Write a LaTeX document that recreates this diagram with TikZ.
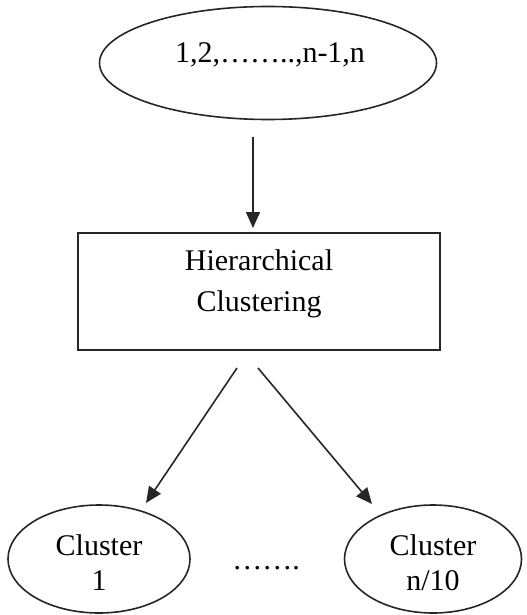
\documentclass[tikz,border=0pt]{standalone}
\usepackage{fontspec}
\setmainfont{Liberation Serif}
\usetikzlibrary{shapes.geometric,arrows.meta}
\tikzset{
  shapeline/.style={draw=black!85, line width=1.6bp},
  oval/.style={shapeline, ellipse, inner sep=0pt},
  txt/.style={anchor=base, inner sep=0pt, font=\fontsize{30bp}{36bp}\selectfont},
  conn/.style={draw=black!85, line width=1.6bp, -{Triangle[length=16bp,width=14bp]}},
}
\begin{document}
\begin{tikzpicture}[x=1bp,y=-1bp]
\useasboundingbox (0,0) rectangle (527,615);
% top ellipse
\node[oval, minimum width=337bp, minimum height=113bp] (top) at (268,63) {};
\node[txt] (toptxt) at (270,63) {1,2,……..,n-1,n};
% box
\node[shapeline, rectangle, minimum width=362bp, minimum height=117bp, inner sep=0pt] (box) at (259,291.5) {};
\node[txt] (boxl1) at (259,270) {Hierarchical};
\node[txt] (boxl2) at (259,311) {Clustering};
% bottom ellipses
\node[oval, minimum width=182bp, minimum height=108bp] (c1) at (99,559) {};
\node[txt] (c1a) at (99,555) {Cluster};
\node[txt] (c1b) at (99,590) {1};
\node[oval, minimum width=177bp, minimum height=108bp] (cn) at (433,559) {};
\node[txt] (cna) at (433,555) {Cluster};
\node[txt] (cnb) at (433,590) {n/10};
\node[txt] (dots) at (266,569) {…….};
% arrow endpoints
\coordinate (a1s) at (253,137);
\coordinate (a1e) at (253,228);
\coordinate (a2s) at (237,368);
\coordinate (a2e) at (146,503);
\coordinate (a3s) at (258,368);
\coordinate (a3e) at (372,504);
\draw[conn] (a1s) -- (a1e);
\draw[conn] (a2s) -- (a2e);
\draw[conn] (a3s) -- (a3e);
\end{tikzpicture}
\end{document}
